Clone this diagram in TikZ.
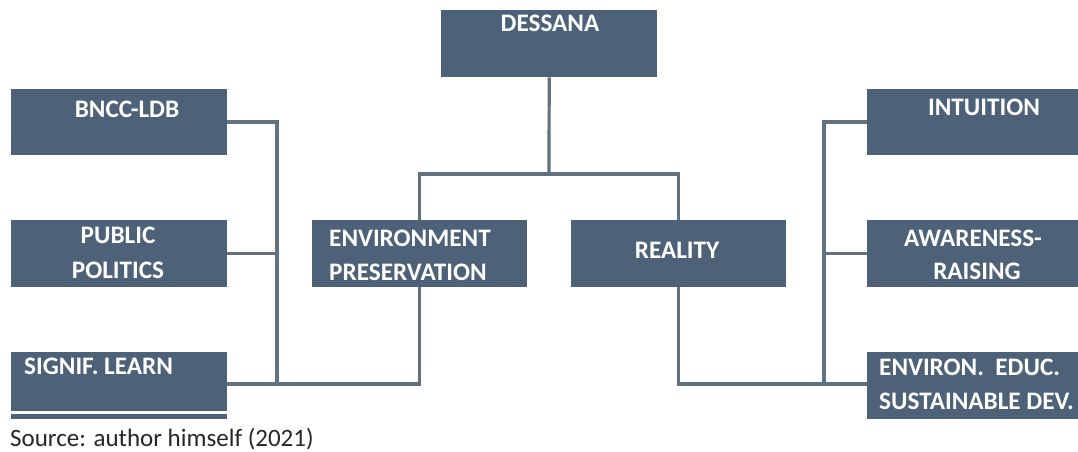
\documentclass[tikz,border=0pt]{standalone}
\usepackage{fontspec}
\setmainfont{Carlito}
\begin{document}
\begin{tikzpicture}[x=1pt,y=-1pt,
  box/.style={draw=none,fill=boxc,rectangle,inner sep=0pt,anchor=north west},
  lbl/.style={text=white,font=\fontsize{25.2}{29}\selectfont\bfseries,inner sep=0pt,anchor=base},
  lbll/.style={lbl,anchor=base west},
  conn/.style={draw=linec,line width=3.2pt,line join=miter}]
\definecolor{boxc}{HTML}{4D6278}
\definecolor{linec}{HTML}{627180}
\useasboundingbox (0,0) rectangle (1078,452);
% boxes
\node[box,minimum width=216pt,minimum height=67pt] (dess) at (441,10) {};
\node[box,minimum width=216pt,minimum height=66pt] (bncc) at (11,89) {};
\node[box,minimum width=216pt,minimum height=67pt] (pub) at (11,220) {};
\node[box,minimum width=216pt,minimum height=59pt] (sig) at (11,352) {};
\node[box,minimum width=216pt,minimum height=5pt] (sigstrip) at (11,414) {};
\node[box,minimum width=215pt,minimum height=67pt] (env) at (312,220) {};
\node[box,minimum width=215pt,minimum height=67pt] (real) at (571,220) {};
\node[box,minimum width=221pt,minimum height=66pt] (intu) at (867,89) {};
\node[box,minimum width=221pt,minimum height=67pt] (awar) at (867,220) {};
\node[box,minimum width=221pt,minimum height=67pt] (edu) at (867,352) {};
% labels
\node[lbl] (dessT) at (550,32) {DESSANA};
\node[lbl] (bnccT) at (127,117) {BNCC-LDB};
\node[lbl] (pubT1) at (118,243) {PUBLIC};
\node[lbl] (pubT2) at (118,278) {POLITICS};
\node[lbll] (sigT) at (24,374) {SIGNIF. LEARN};
\node[lbll] (envT1) at (329,246) {ENVIRONMENT};
\node[lbll] (envT2) at (329,280) {PRESERVATION};
\node[lbl] (realT) at (677,258) {REALITY};
\node[lbl] (intuT) at (984,115) {INTUITION};
\node[lbl] (awarT1) at (973,246) {AWARENESS-};
\node[lbl] (awarT2) at (977,279) {RAISING};
\node[lbll] (eduT1) at (879,375) {ENVIRON.\ \ EDUC.};
\node[lbll] (eduT2) at (879,409) {SUSTAINABLE DEV.};
\node[anchor=base west,inner sep=0pt,font=\fontsize{25}{29}\selectfont,text=black!85] (src) at (10,446) {Source: author himself (2021)};
% junctions
\coordinate (jt) at (549,174);
\coordinate (lt) at (277,122);
\coordinate (lb) at (277,384);
\coordinate (rt) at (824,122);
\coordinate (rb) at (824,384);
% connectors
\draw[conn] (dess.south) -- (jt);
\draw[conn] (env.north) -- (env.north |- jt) -- (real.north |- jt) -- (real.north);
\draw[conn] (bncc.east |- lt) -- (lt) -- (lb);
\draw[conn] (pub.east) -- (pub.east -| lt);
\draw[conn] (sig.east |- lb) -- (lb -| env.south) -- (env.south);
\draw[conn] (intu.west |- rt) -- (rt) -- (rb);
\draw[conn] (awar.west) -- (awar.west -| rt);
\draw[conn] (real.south) -- (real.south |- rb) -- (edu.west |- rb);
\end{tikzpicture}
\end{document}
